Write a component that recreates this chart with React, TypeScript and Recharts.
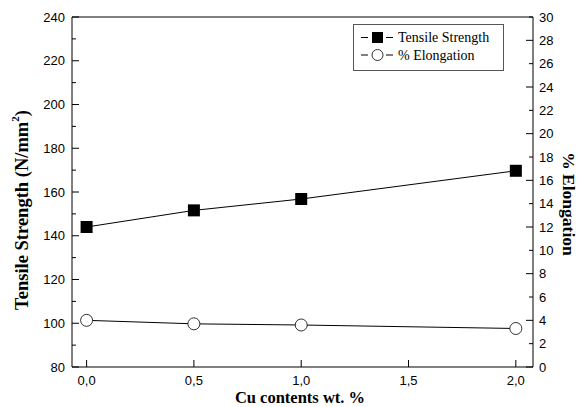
import React from 'react';
import { LineChart, Line, XAxis, YAxis, ReferenceLine, Customized } from 'recharts';

const cuContent = [0, 0.5, 1.0, 2.0];
const tensileStrength = [144, 151.6, 156.8, 169.7];
const elongation = [4.0, 3.7, 3.6, 3.3];

const xTicks = [0, 0.5, 1.0, 1.5, 2.0];
const leftTicks = [80, 90, 100, 110, 120, 130, 140, 150, 160, 170, 180, 190, 200, 210, 220, 230, 240];
const rightTicks = [0, 2, 4, 6, 8, 10, 12, 14, 16, 18, 20, 22, 24, 26, 28, 30];
const seriesNames = ['Tensile Strength', '% Elongation'];

const data = cuContent.map((cu, i) => ({
    cu,
    tensile: tensileStrength[i],
    elong: elongation[i],
}));

const SERIF = '"Liberation Serif", "Times New Roman", serif';
const TICK_FONT = { fontFamily: '"Liberation Sans", Arial, sans-serif', fontSize: 13, fill: '#000' };
const TITLE_FONT = { fontFamily: SERIF, fontSize: 17.5, fontWeight: 700, fill: '#000' };

const LEFT_GAP = 7;
const RIGHT_GAP = 6;
const BOTTOM_GAP = 13;

const LeftTick = (props: any) => {
    const { x, y, payload } = props;
    const axisX = x + LEFT_GAP;
    const major = payload.value % 20 === 0;
    return (
        <g>
            <line x1={axisX} x2={axisX + (major ? 7 : 4)} y1={y} y2={y} stroke="#000" />
            {major && (
                <text x={x} y={y} textAnchor="end" dominantBaseline="central" {...TICK_FONT}>
                    {payload.value}
                </text>
            )}
        </g>
    );
};

const RightTick = (props: any) => {
    const { x, y, payload } = props;
    const axisX = x - RIGHT_GAP;
    const major = payload.value % 4 === 0;
    return (
        <g>
            <line x1={axisX} x2={axisX - (major ? 7 : 4)} y1={y} y2={y} stroke="#000" />
            <text x={x} y={y} textAnchor="start" dominantBaseline="central" {...TICK_FONT}>
                {payload.value}
            </text>
        </g>
    );
};

const BottomTick = (props: any) => {
    const { x, y, payload } = props;
    const axisY = y - BOTTOM_GAP;
    return (
        <g>
            <line x1={x} x2={x} y1={axisY} y2={axisY - 7} stroke="#000" />
            <text x={x} y={y} textAnchor="middle" dominantBaseline="central" {...TICK_FONT}>
                {payload.value.toFixed(1).replace('.', ',')}
            </text>
        </g>
    );
};

// axis titles and the legend box, drawn straight into the svg
const Overlay = () => (
    <g>
        <text x={22} y={210} textAnchor="middle" dominantBaseline="central" transform="rotate(-90 22 210)" {...TITLE_FONT} fontSize={18.5}>
            Tensile Strength (N/mm<tspan dy={-7} fontSize={11}>2</tspan><tspan dy={7}>)</tspan>
        </text>
        <text x={569} y={204} textAnchor="middle" dominantBaseline="central" transform="rotate(90 569 204)" {...TITLE_FONT}>
            % Elongation
        </text>
        <text x={300} y={403} textAnchor="middle" {...TITLE_FONT} fontSize={16.5}>
            Cu contents wt. %
        </text>

        <rect x={353.5} y={24.5} width={150} height={46} fill="#fff" stroke="#555" />
        <line x1={361} x2={368} y1={37.5} y2={37.5} stroke="#000" />
        <rect x={372} y={32} width={11} height={11} fill="#000" />
        <line x1={386} x2={393} y1={37.5} y2={37.5} stroke="#000" />
        <text x={398} y={37.5} dominantBaseline="central" fontFamily={SERIF} fontSize={14} fill="#000">
            {seriesNames[0]}
        </text>
        <line x1={361} x2={368} y1={55} y2={55} stroke="#000" />
        <circle cx={377.5} cy={55} r={5.5} fill="#fff" stroke="#000" strokeWidth={0.8} />
        <line x1={386} x2={393} y1={55} y2={55} stroke="#000" />
        <text x={398} y={55} dominantBaseline="central" fontFamily={SERIF} fontSize={14} fill="#000">
            {seriesNames[1]}
        </text>
    </g>
);

const Square = (props: any) => {
    const { cx, cy } = props;
    return <rect x={cx - 6} y={cy - 6} width={12} height={12} fill="#000" />;
};

export default function App() {
    return (
        <div style={{ position: 'absolute', left: 0, top: 0, background: '#fff' }}>
            <LineChart width={578} height={407} data={data} margin={{ top: 17, right: 0, bottom: 0, left: 0 }}>
                <XAxis
                    dataKey="cu"
                    type="number"
                    domain={[-0.068, 2.08]}
                    ticks={xTicks}
                    interval={0}
                    height={40}
                    tickSize={0}
                    tickMargin={BOTTOM_GAP}
                    tickLine={false}
                    axisLine={{ stroke: '#000' }}
                    tick={<BottomTick />}
                    allowDataOverflow
                />
                <YAxis
                    yAxisId="left"
                    domain={[80, 240]}
                    ticks={leftTicks}
                    interval={0}
                    width={72}
                    tickSize={0}
                    tickMargin={LEFT_GAP}
                    tickLine={false}
                    axisLine={{ stroke: '#000' }}
                    tick={<LeftTick />}
                />
                <YAxis
                    yAxisId="right"
                    orientation="right"
                    domain={[0, 30]}
                    ticks={rightTicks}
                    interval={0}
                    width={45}
                    tickSize={0}
                    tickMargin={RIGHT_GAP}
                    tickLine={false}
                    axisLine={{ stroke: '#000' }}
                    tick={<RightTick />}
                />
                <ReferenceLine yAxisId="left" y={240} stroke="#000" />
                <Line
                    yAxisId="left"
                    dataKey="tensile"
                    name={seriesNames[0]}
                    type="linear"
                    stroke="#000"
                    strokeWidth={1}
                    dot={<Square />}
                    isAnimationActive={false}
                />
                <Line
                    yAxisId="right"
                    dataKey="elong"
                    name={seriesNames[1]}
                    type="linear"
                    stroke="#000"
                    strokeWidth={1}
                    dot={{ r: 6, fill: '#fff', stroke: '#000', strokeWidth: 0.8 }}
                    isAnimationActive={false}
                />
                <Customized component={<Overlay />} />
            </LineChart>
        </div>
    );
}
